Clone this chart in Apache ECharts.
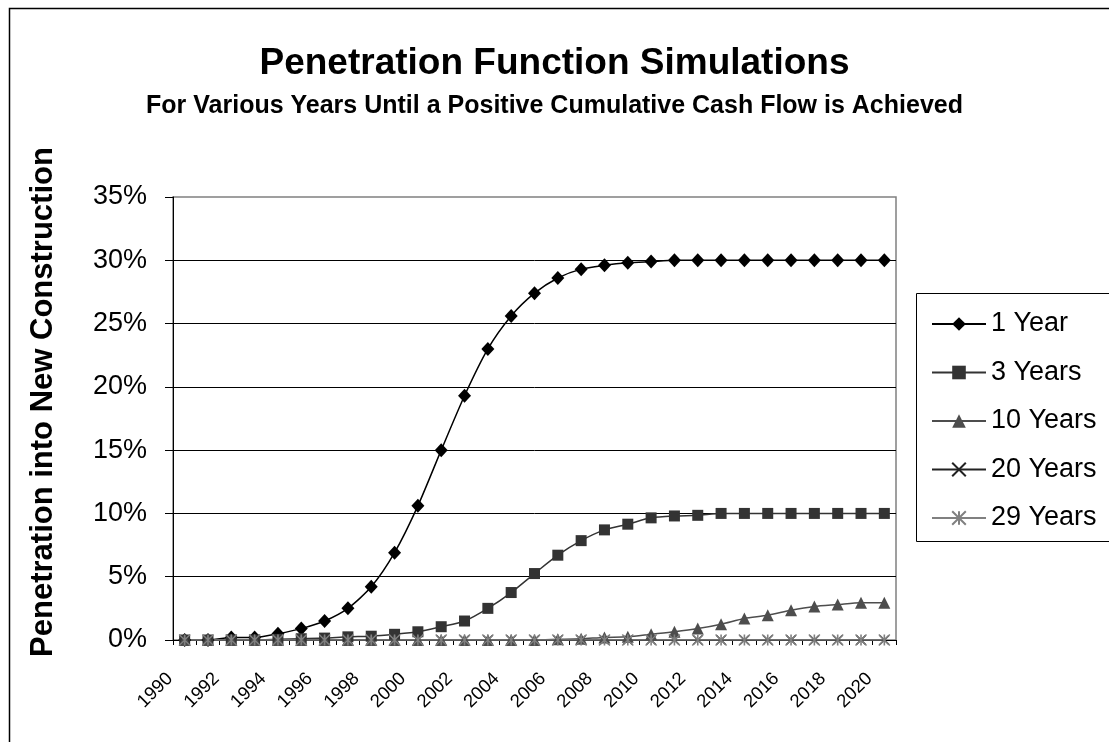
<!DOCTYPE html>
<html>
<head>
<meta charset="utf-8">
<script src="https://cdn.jsdelivr.net/npm/echarts@6/dist/echarts.min.js"></script>
<style>
  html, body { margin: 0; padding: 0; background: #fff; }
  #chart { width: 1109px; height: 742px; }
</style>
</head>
<body>
<div id="chart"></div>
<script>
const years = ['1990','1991','1992','1993','1994','1995','1996','1997','1998','1999','2000','2001','2002','2003','2004','2005','2006','2007','2008','2009','2010','2011','2012','2013','2014','2015','2016','2017','2018','2019','2020'];
const seriesNames = ['1 Year', '3 Years', '10 Years', '20 Years', '29 Years'];
const year1 = [0,0,0.2,0.2,0.5,0.9,1.5,2.5,4.2,6.9,10.6,15.0,19.3,23.0,25.6,27.4,28.6,29.3,29.6,29.8,29.9,30,30,30,30,30,30,30,30,30,30];
const years3 = [0,0,0,0,0.05,0.1,0.15,0.25,0.3,0.45,0.65,1.05,1.5,2.5,3.75,5.25,6.7,7.85,8.7,9.15,9.65,9.8,9.85,10,10,10,10,10,10,10,10];
const years10 = [0,0,0,0,0,0,0,0,0,0,0,0,0,0,0,0,0.05,0.1,0.2,0.25,0.45,0.65,0.9,1.25,1.7,1.95,2.35,2.65,2.8,2.95,2.95];
const years20 = [0,0,0,0,0,0,0,0,0,0,0,0,0,0,0,0,0,0,0,0,0,0,0,0,0,0,0,0,0,0,0];
const years29 = [0,0,0,0,0,0,0,0,0,0,0,0,0,0,0,0,0,0,0,0,0,0,0,0,0,0,0,0,0,0,0];
const yTicks = [0,5,10,15,20,25,30,35];

const FONT = '"Liberation Sans", Arial, sans-serif';
const chart = echarts.init(document.getElementById('chart'));

function mk(name, data, color, symbol, size) {
  return {
    name: name, type: 'line', data: data,
    smooth: 0.25, showSymbol: true, showAllSymbol: true,
    symbol: symbol, symbolSize: size,
    lineStyle: { color: color, width: 1.5 },
    itemStyle: { color: color, borderColor: color, borderWidth: (symbol.indexOf('path') === 0 ? 1.6 : 0) },
    emphasis: { disabled: true }
  };
}

chart.setOption({
  animation: false,
  backgroundColor: '#fff',
  title: [
    { text: 'Penetration Function Simulations', left: 'center', top: 40,
      textStyle: { fontFamily: FONT, fontSize: 37, fontWeight: 'bold', color: '#000' } },
    { text: 'For Various Years Until a Positive Cumulative Cash Flow is Achieved', left: 'center', top: 89,
      textStyle: { fontFamily: FONT, fontSize: 25, fontWeight: 'bold', color: '#000' } }
  ],
  graphic: [
    { type: 'rect', shape: { x: 9.5, y: 8.5, width: 1300, height: 900 }, style: { fill: 'none', stroke: '#000', lineWidth: 1.5 }, z: 0, silent: true },
    { type: 'rect', shape: { x: 916.5, y: 293.5, width: 300, height: 248 }, style: { fill: '#fff', stroke: '#000', lineWidth: 1 }, z: 0, silent: true },
    { type: 'text', x: 43, y: 402, rotation: Math.PI / 2,
      style: { text: 'Penetration into New Construction', font: 'bold 31px ' + FONT, fill: '#000', textAlign: 'center', textVerticalAlign: 'middle' } }
  ],
  legend: {
    orient: 'vertical', left: 926, top: 304,
    itemWidth: 54, itemHeight: 17, itemGap: 18.5,
    textStyle: { fontFamily: FONT, fontSize: 27, color: '#000', lineHeight: 30 },
    data: seriesNames
  },
  grid: { left: 173, right: 213, top: 197, bottom: 102, show: true, borderColor: '#808080', borderWidth: 1.5, backgroundColor: '#fff' },
  xAxis: {
    type: 'category', data: years, boundaryGap: true,
    axisLine: { lineStyle: { color: '#000', width: 1 } },
    axisTick: { show: true, interval: 0, length: 5, lineStyle: { color: '#000' } },
    axisLabel: { interval: 1, rotate: 45, margin: 21, padding: [0, 21, 0, 0], fontFamily: FONT, fontSize: 18.5, color: '#000' },
    splitLine: { show: false }
  },
  yAxis: {
    type: 'value', min: yTicks[0], max: yTicks[yTicks.length - 1], interval: 5,
    axisLine: { show: true, lineStyle: { color: '#000', width: 1 } },
    axisTick: { show: true, length: 8, lineStyle: { color: '#000' } },
    axisLabel: { formatter: '{value}%', margin: 26, fontFamily: FONT, fontSize: 27, color: '#000' },
    splitLine: { show: true, showMaxLine: false, showMinLine: false, lineStyle: { color: '#000', width: 1 } }
  },
  series: [
    mk(seriesNames[0], year1, '#000000', 'diamond', [13, 14]),
    mk(seriesNames[1], years3, '#333333', 'rect', 11),
    mk(seriesNames[2], years10, '#4d4d4d', 'triangle', 12),
    mk(seriesNames[3], years20, '#222222', 'path://M0,0L10,10M10,0L0,10', 9),
    mk(seriesNames[4], years29, '#808080', 'path://M5,0L5,10M0,0L10,10M10,0L0,10', 11)
  ]
});
</script>
</body>
</html>
